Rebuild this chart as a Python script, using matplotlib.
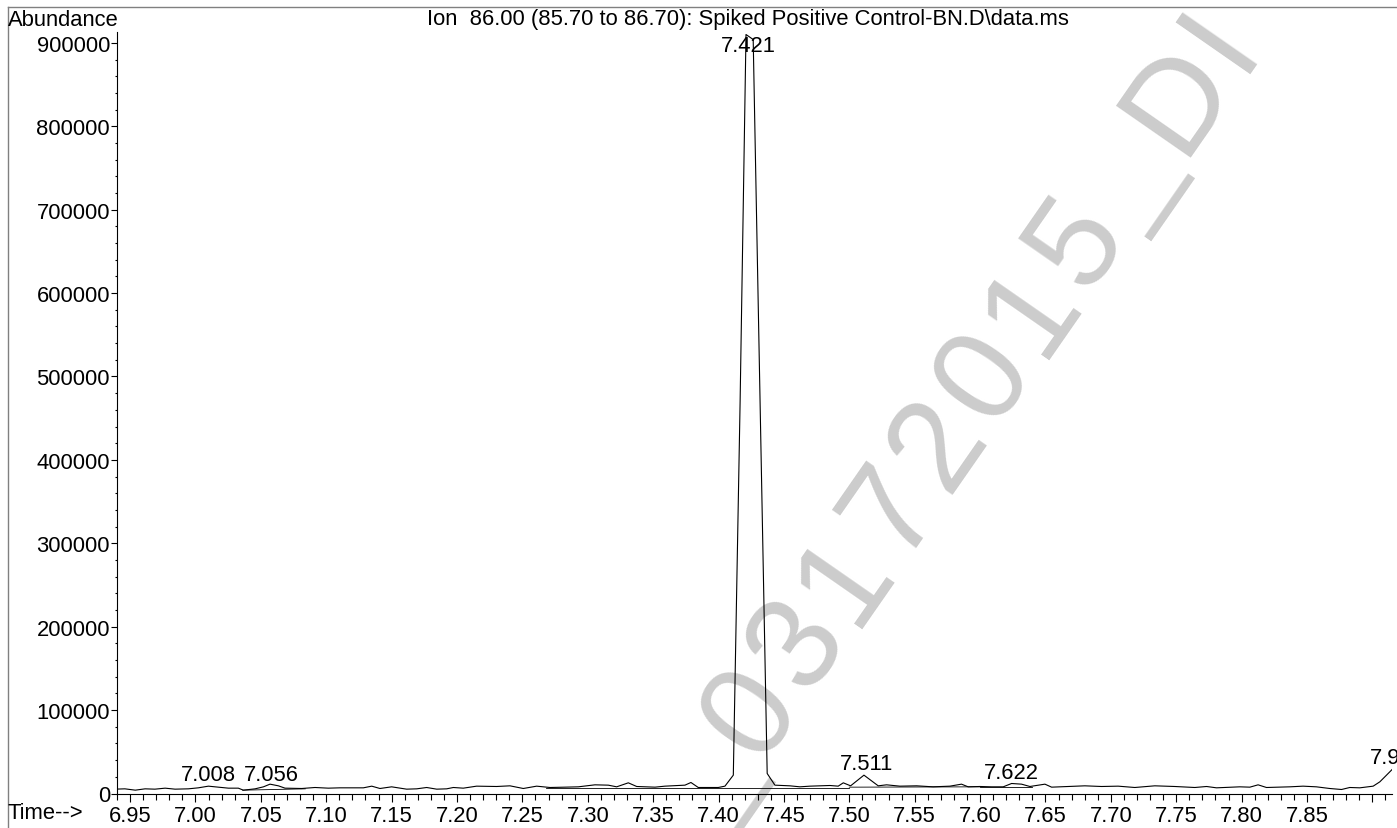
import matplotlib
matplotlib.use("Agg")
import matplotlib.pyplot as plt
import numpy as np
from matplotlib.lines import Line2D
from matplotlib.ticker import FixedLocator, FixedFormatter, MultipleLocator

plt.rcParams['font.family'] = ['Liberation Sans', 'DejaVu Sans']

# ---- data ----
time_min = [6.9385, 6.946, 6.954, 6.9615, 6.969, 6.9768, 6.9844, 6.9946, 7.0022, 7.0099,
            7.0175, 7.0252, 7.0328, 7.0366, 7.0456, 7.052, 7.057, 7.0634, 7.0685, 7.0813,
            7.0914, 7.1016, 7.1105, 7.1284, 7.1348, 7.1411, 7.150, 7.1615, 7.1692, 7.1768,
            7.1845, 7.1921, 7.1972, 7.2048, 7.215, 7.2303, 7.2405, 7.2507, 7.2609, 7.2711,
            7.2826, 7.2928, 7.3055, 7.3157, 7.3221, 7.331, 7.3374, 7.3514, 7.359, 7.3692,
            7.3743, 7.3789, 7.3845, 7.3998, 7.4049, 7.4113, 7.4165, 7.4210, 7.4265, 7.4320,
            7.4372, 7.4431, 7.4546, 7.4622, 7.4699, 7.4775, 7.4852, 7.4915, 7.4954, 7.501,
            7.5112, 7.5221, 7.5285, 7.5387, 7.5515, 7.5641, 7.5769, 7.5858, 7.5909, 7.5998,
            7.6088, 7.6177, 7.6241, 7.6317, 7.6381, 7.6496, 7.6547, 7.6674, 7.6801, 7.6929,
            7.7056, 7.7183, 7.7336, 7.7489, 7.7642, 7.7732, 7.7808, 7.7986, 7.8063, 7.8126,
            7.819, 7.8368, 7.847, 7.8572, 7.8674, 7.8764, 7.8827, 7.8904, 7.9006, 7.9057,
            7.9108, 7.9146, 7.9170]
abundance = [5200, 5600, 4000, 5600, 5200, 6400, 5200, 5600, 6800, 8800,
             7600, 6400, 6400, 4000, 5600, 8000, 11200, 9200, 6400, 6000,
             7200, 6400, 6800, 6800, 8800, 6000, 8000, 5200, 5600, 7200,
             5200, 5600, 7200, 6400, 8800, 8400, 9200, 6000, 8800, 7200,
             7600, 8000, 10400, 10000, 8000, 12800, 8400, 7600, 8800, 9600,
             10000, 13200, 7200, 7200, 8800, 22000, 470000, 910000, 904000, 450000,
             24000, 10000, 9200, 8000, 8800, 9200, 9600, 8800, 12800, 9200,
             22000, 9200, 10400, 8800, 9200, 8000, 8800, 11200, 8000, 8400,
             8000, 8000, 12000, 11200, 8400, 11200, 7600, 8400, 9200, 8400,
             8800, 7200, 9200, 8400, 7200, 8400, 6800, 8000, 7600, 10400,
             7200, 8000, 8800, 8000, 6000, 4800, 7200, 6800, 8800, 14000,
             22000, 28000, 32000]

# integration baselines drawn under the integrated peaks
base_start_t = [7.036, 7.268, 7.500, 7.600]
base_start_v = [4000, 6800, 7600, 8000]
base_end_t = [7.084, 7.500, 7.600, 7.640]
base_end_v = [5600, 6800, 8000, 8000]

peak_times = [7.008, 7.056, 7.421, 7.511, 7.622, 7.917]
peak_labels = ["7.008", "7.056", "7.421", "7.511", "7.622", "7.917"]
peak_heights = [8800, 8800, 910000, 22000, 12000, 30000]

x_tick_values = [6.95, 7.00, 7.05, 7.10, 7.15, 7.20, 7.25, 7.30, 7.35, 7.40,
                 7.45, 7.50, 7.55, 7.60, 7.65, 7.70, 7.75, 7.80, 7.85, 7.90]
x_tick_labels = ["6.95", "7.00", "7.05", "7.10", "7.15", "7.20", "7.25", "7.30", "7.35", "7.40",
                 "7.45", "7.50", "7.55", "7.60", "7.65", "7.70", "7.75", "7.80", "7.85", ""]
y_tick_values = [0, 100000, 200000, 300000, 400000, 500000, 600000, 700000, 800000, 900000]
y_tick_labels = ["0", "100000", "200000", "300000", "400000", "500000", "600000",
                 "700000", "800000", "900000"]

title_text = "Ion  86.00 (85.70 to 86.70): Spiked Positive Control-BN.D\\data.ms"
watermark_text = "_03172015_DI"

# ---- figure ----
W, H = 1397, 829
fig = plt.figure(figsize=(W / 100, H / 100), dpi=100)
fs = 15.8

ax = fig.add_axes([117 / W, (H - 794.5) / H, (1392 - 117) / W, (794.5 - 33) / H])
ax.patch.set_visible(False)

ax.plot(time_min, abundance, color='black', lw=0.8, zorder=3, clip_on=True)
for t0, v0, t1, v1 in zip(base_start_t, base_start_v, base_end_t, base_end_v):
    ax.plot([t0, t1], [v0, v1], color='black', lw=0.6, zorder=2)

ax.set_xlim(6.9400, 7.9150)
ax.set_ylim(0, 913000)

for s in ['top', 'right']:
    ax.spines[s].set_visible(False)
for s in ['left', 'bottom']:
    ax.spines[s].set_linewidth(0.8)

ax.xaxis.set_major_locator(FixedLocator(x_tick_values))
ax.xaxis.set_major_formatter(FixedFormatter(x_tick_labels))
ax.xaxis.set_minor_locator(MultipleLocator(0.01))
ax.yaxis.set_major_locator(FixedLocator(y_tick_values))
ax.yaxis.set_major_formatter(FixedFormatter(y_tick_labels))
ax.yaxis.set_minor_locator(MultipleLocator(20000))

ax.tick_params(axis='x', which='major', direction='out', length=5.5, width=0.8, pad=3, labelsize=fs)
ax.tick_params(axis='x', which='minor', direction='out', length=4, width=0.8)
ax.tick_params(axis='y', which='major', direction='out', length=4, width=0.8, pad=1, labelsize=fs)
ax.tick_params(axis='y', which='minor', direction='out', length=1.8, width=0.8)

# peak labels
for t, lab, h in zip(peak_times, peak_labels, peak_heights):
    if h > 500000:
        ax.annotate(lab, xy=(t, 913000), xytext=(2, -2), textcoords='offset points',
                    ha='center', va='top', fontsize=fs, zorder=4)
    else:
        ax.annotate(lab, xy=(t, h), xytext=(2, 0.5), textcoords='offset points',
                    ha='center', va='bottom', fontsize=fs, zorder=4, annotation_clip=False)

# header / axis texts
fig.text(8 / W, 1 - 20 / H, "Abundance", ha='left', va='center', fontsize=fs)
fig.text(748 / W, 1 - 20 / H, title_text, ha='center', va='center', fontsize=fs)
fig.text(8 / W, 1 - 814 / H, "Time-->", ha='left', va='center', fontsize=fs)

# page frame (top and left edges visible)
fig.add_artist(Line2D([8 / W, 1.0], [1 - 8 / H, 1 - 8 / H], color='#808080', lw=1.0,
                      transform=fig.transFigure))
fig.add_artist(Line2D([8 / W, 8 / W], [0.0, 1 - 8 / H], color='#808080', lw=1.0,
                      transform=fig.transFigure))

# watermark: letter-spaced text laid out along a rotated baseline
ang = 55.2
u = np.array([np.cos(np.radians(ang)), -np.sin(np.radians(ang))])   # pixel coords, y down
down = np.array([-u[1], u[0]])                                         # towards below baseline
advance = {'_': 0.556, 'D': 0.722, 'I': 0.278}
spacing_px = 147.0
glyph_pt = 95
glyph_px = glyph_pt / 72 * 100
zero_ink_centre = np.array([742.0, 706.0])
start = zero_ink_centre + 0.358 * glyph_px * down      # baseline centre of the first "0"
pos = -0.556 - 0.278
for ch in watermark_text:
    w = advance.get(ch, 0.556)
    centre = start + (pos + w / 2) * spacing_px * u
    fig.text(centre[0] / W, 1 - centre[1] / H, ch, rotation=ang, rotation_mode='anchor',
             ha='center', va='baseline', fontsize=glyph_pt, color='#cccccc', zorder=-1)
    pos += w

fig.savefig("out.png", dpi=100)
